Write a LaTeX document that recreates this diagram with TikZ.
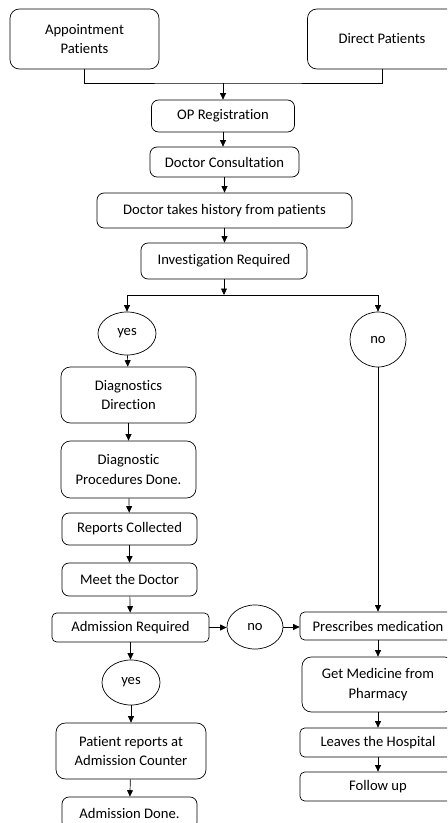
\documentclass[tikz,border=0pt]{standalone}
\usepackage{fontspec}
\setmainfont{Carlito}[Ligatures={NoCommon}]
\usetikzlibrary{shapes.geometric,arrows.meta,positioning,calc}

\begin{document}
\begin{tikzpicture}[x=0.03cm, y=-0.03cm]

  % Set default styles
  \tikzset{
    every node/.style={font=\fontsize{12.5}{17}\selectfont},
    stepbox/.style={draw, line width=0.6pt, rounded corners=6pt, align=center, inner sep=0pt},
    choice/.style={draw, ellipse, line width=0.6pt, inner sep=0pt},
    flow/.style={line width=0.6pt, -{Triangle[length=5.5pt,width=5pt]}},
    joint/.style={line width=0.6pt}
  }

  % Frame
  \clip (0,0) rectangle (447,823);
  \useasboundingbox (0,0) rectangle (447,823);

  % Entry points
  \node[stepbox, minimum width=4.47cm, minimum height=1.8cm, rounded corners=8pt] (appt) at (84.5,39) {Appointment\\Patients};
  \node[stepbox, minimum width=4.47cm, minimum height=1.8cm, rounded corners=8pt] (direct) at (382,39) {Direct Patients};
  \coordinate (join) at (223,83);

  % OP desk
  \node[stepbox, minimum width=4.29cm, minimum height=0.96cm] (op) at (223,116) {OP Registration};
  \node[stepbox, minimum width=4.47cm, minimum height=0.9cm] (consult) at (224.5,162) {Doctor Consultation};
  \node[stepbox, minimum width=7.65cm, minimum height=1.05cm] (history) at (224.5,210.5) {Doctor takes history from patients};
  \node[stepbox, minimum width=4.98cm, minimum height=1.08cm] (invest) at (224,261) {Investigation Required};
  \coordinate (split) at (224,295);

  % Branch: investigation
  \node[choice, minimum width=1.74cm, minimum height=1.29cm] (yes1) at (127,333.5) {yes};
  \node[choice, minimum width=1.68cm, minimum height=1.65cm] (no1) at (378,339.5) {no};
  \node[stepbox, minimum width=4.05cm, minimum height=1.68cm, rounded corners=8pt] (diagdir) at (128.5,395) {Diagnostics\\Direction};
  \node[stepbox, minimum width=4.05cm, minimum height=1.71cm, rounded corners=8pt] (diagproc) at (128.5,469.5) {Diagnostic\\Procedures Done.};
  \node[stepbox, minimum width=4.05cm, minimum height=0.96cm] (reports) at (129.5,529) {Reports Collected};
  \node[stepbox, minimum width=4.05cm, minimum height=0.99cm] (meet) at (129.5,579.5) {Meet the Doctor};
  \node[stepbox, minimum width=4.71cm, minimum height=0.87cm, rounded corners=4pt] (admreq) at (130.5,627.5) {Admission Required};

  % Branch: admission
  \node[choice, minimum width=1.68cm, minimum height=1.32cm] (no2) at (255,627) {no};
  \node[choice, minimum width=1.74cm, minimum height=1.35cm] (yes2) at (131,682.5) {yes};
  \node[stepbox, minimum width=4.5cm, minimum height=1.68cm, rounded corners=8pt] (patrep) at (131,751) {Patient reports at\\Admission Counter};
  \node[stepbox, minimum width=4.05cm, minimum height=0.96cm] (admdone) at (129.5,813) {Admission Done.};

  % Medication path
  \node[stepbox, minimum width=4.68cm, minimum height=0.84cm, rounded corners=4pt] (prescr) at (378,626) {Prescribes medication};
  \node[stepbox, minimum width=4.56cm, minimum height=1.65cm, rounded corners=8pt] (medicine) at (378,684.5) {Get Medicine from\\Pharmacy};
  \node[stepbox, minimum width=4.68cm, minimum height=0.87cm, rounded corners=4pt] (leaves) at (378,742.5) {Leaves the Hospital};
  \node[stepbox, minimum width=4.68cm, minimum height=0.87cm, rounded corners=4pt] (follow) at (378,786.5) {Follow up};

  % Connectors
  \draw[joint] (appt.south) |- (join) -| (direct.south);
  \draw[flow] (join) -- (op.north);
  \draw[flow] (op.south) -- (op.south |- consult.north);
  \draw[flow] (consult.south) -- (consult.south |- history.north);
  \draw[flow] (history.south) -- (history.south |- invest.north);
  \draw[flow] (invest.south) -- (split);
  \draw[flow] (split) -| (yes1.north);
  \draw[flow] (split) -| (no1.north);
  \draw[flow] (yes1) -- (diagdir);
  \draw[flow] (diagdir) -- (diagproc);
  \draw[flow] (diagproc) -- (reports);
  \draw[flow] (reports) -- (meet);
  \draw[flow] (meet) -- (admreq);
  \draw[flow] (admreq.south) -- (admreq.south |- yes2.north);
  \draw[flow] (yes2) -- (patrep);
  \draw[flow] (patrep) -- (admdone);
  \draw[flow] (admreq.east) -- (admreq.east -| no2.west);
  \draw[flow] (no2.east) -- (no2.east -| prescr.west);
  \draw[flow] (no1.south) -- (no1.south |- prescr.north);
  \draw[flow] (prescr) -- (medicine);
  \draw[flow] (medicine) -- (leaves);
  \draw[flow] (leaves) -- (follow);

\end{tikzpicture}
\end{document}
